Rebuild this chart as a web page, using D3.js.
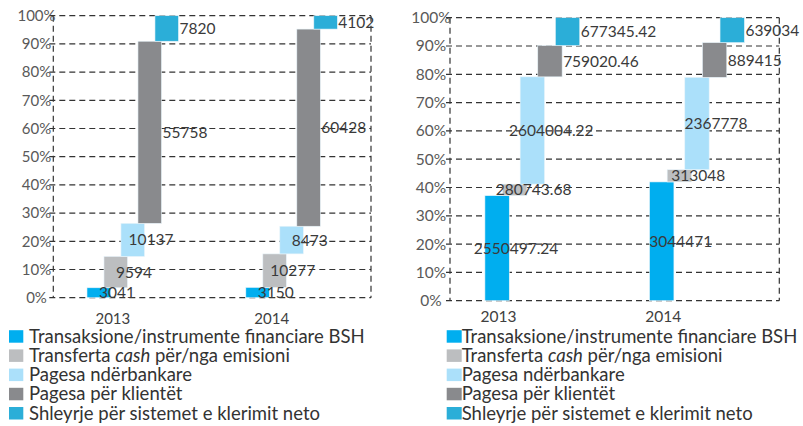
<!DOCTYPE html>
<html><head><meta charset="utf-8">
<script src="https://cdn.jsdelivr.net/npm/d3@7"></script>
<style>
html,body{margin:0;padding:0;background:#fff;}
svg{display:block;font-family:Lato,"Open Sans","DejaVu Sans",sans-serif;}
</style></head>
<body>
<svg id="chart" width="803" height="426"></svg>
<script>
// ---- data ----
const years = ["2013", "2014"];
const seriesNames = [
  "Transaksione/instrumente financiare BSH",
  "Transferta cash për/nga emisioni",
  "Pagesa ndërbankare",
  "Pagesa për klientët",
  "Shleyrje për sistemet e klerimit neto"
];
const seriesColors = ["#00AEEF", "#BCBEC0", "#ABE0FA", "#898A8D", "#2BAED8"];
const countValues2013 = [3041, 9594, 10137, 55758, 7820];
const countValues2014 = [3150, 10277, 8473, 60428, 4102];
const amountValues2013 = [2550497.24, 280743.68, 2604004.22, 759020.46, 677345.42];
const amountValues2014 = [3044471, 313048, 2367778, 889415, 639034];
const tickValues = [0, 0.1, 0.2, 0.3, 0.4, 0.5, 0.6, 0.7, 0.8, 0.9, 1];

const svg = d3.select("#chart");

function drawPanel(cfg) {
  const g = svg.append("g");
  const x = d3.scaleBand().domain(years).range([cfg.left, cfg.right]).padding(0);
  const y = d3.scaleLinear().domain([0, 1]).range([cfg.bottom, cfg.top]);
  const bw = x.bandwidth();
  const barW = 0.148 * bw, step = 0.107 * bw;
  const groupW = barW + step * 4;

  // gridlines
  g.append("g").selectAll("line").data(tickValues).join("line")
    .attr("x1", cfg.left - 4).attr("x2", cfg.right)
    .attr("y1", d => y(d)).attr("y2", d => y(d))
    .attr("stroke", "#333").attr("stroke-width", 1.2).attr("stroke-dasharray", "6,4");
  // vertical borders
  [cfg.left, cfg.right].forEach(xx => {
    g.append("line").attr("x1", xx).attr("x2", xx).attr("y1", y(1)).attr("y2", y(0))
      .attr("stroke", "#333").attr("stroke-width", 1.2).attr("stroke-dasharray", "6,4");
  });
  // tick labels
  g.append("g").selectAll("text").data(tickValues).join("text")
    .attr("x", cfg.tickX).attr("y", d => y(d)).attr("dy", "0.35em")
    .attr("text-anchor", "middle").attr("font-size", cfg.tickSize).attr("fill", "#595959")
    .text(d3.format(".0%"));

  years.forEach((yr, yi) => {
    const vals = cfg.values[yi];
    const total = d3.sum(vals);
    const cum = d3.cumsum(vals).map(v => v / total);
    const x0 = x(yr) + bw / 2 - groupW / 2;
    const segs = vals.map((v, i) => ({
      v, i, lo: i === 0 ? 0 : cum[i - 1], hi: cum[i],
      bx: x0 + i * step
    }));
    g.append("g").selectAll("rect").data(segs).join("rect")
      .attr("x", d => d.bx).attr("width", barW)
      .attr("y", d => y(d.hi)).attr("height", d => y(d.lo) - y(d.hi))
      .attr("fill", d => seriesColors[d.i])
      .attr("stroke", "#e8f4fa").attr("stroke-width", 0.6);
    g.append("g").selectAll("text").data(segs).join("text")
      .attr("x", d => d.i < 3 ? d.bx + barW / 2 + 0.115 * bw : d.bx + barW + 1)
      .attr("text-anchor", d => d.i < 3 ? "middle" : "start")
      .attr("y", d => (y(d.lo) + y(d.hi)) / 2).attr("dy", "0.36em")
      .attr("font-size", cfg.labelSize).attr("fill", "#3a3a3a")
      .text(d => String(d.v));
    g.append("text")
      .attr("x", x(yr) + bw / 2 + cfg.catShift * bw).attr("y", cfg.catY)
      .attr("text-anchor", "middle").attr("font-size", cfg.tickSize).attr("fill", "#404040")
      .text(yr);
  });

  // legend
  const lg = g.append("g");
  seriesNames.forEach((name, i) => {
    const ty = cfg.legendY + i * 19.2;
    lg.append("rect").attr("x", cfg.legendX).attr("y", ty - 12.5)
      .attr("width", cfg.legendSq).attr("height", 12.5).attr("fill", seriesColors[i]);
    const t = lg.append("text").attr("x", cfg.legendTextX).attr("y", ty)
      .attr("font-size", 18.5).attr("fill", "#333");
    if (i === 1) {
      t.append("tspan").text("Transferta ");
      t.append("tspan").attr("font-style", "italic").text("cash");
      t.append("tspan").text(" për/nga emisioni");
    } else {
      t.text(name);
    }
  });
}

drawPanel({
  left: 53.3, right: 371, top: 15.7, bottom: 297.7,
  tickX: 36.5, tickSize: 15, labelSize: 15.5, catShift: -0.125, catY: 324,
  values: [countValues2013, countValues2014],
  legendX: 9, legendSq: 14.3, legendTextX: 29, legendY: 342.7
});
drawPanel({
  left: 450, right: 779.3, top: 17.7, bottom: 300.7,
  tickX: 431, tickSize: 15.5, labelSize: 15.5, catShift: -0.205, catY: 321.7,
  values: [amountValues2013, amountValues2014],
  legendX: 446.7, legendSq: 15, legendTextX: 461.7, legendY: 342.7
});
</script>
</body></html>
